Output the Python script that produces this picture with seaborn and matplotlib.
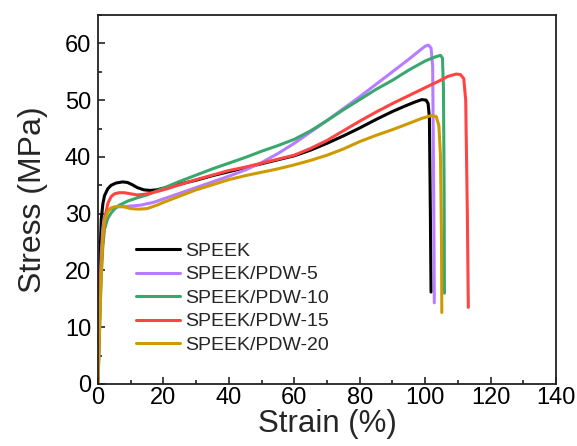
import numpy as np
import pandas as pd
import matplotlib
matplotlib.use("Agg")
import matplotlib.pyplot as plt
import seaborn as sns
from matplotlib.ticker import MultipleLocator

# ---- data ----
speek_x = [0, 0.3, 0.6, 1.0, 1.5, 2.0, 3.0, 4, 5.5, 7.5, 9, 10.5, 12, 14, 16, 18, 20, 25, 30, 35, 40, 45, 50, 55, 60, 65, 70, 75, 80, 85, 90, 94, 97, 99, 100.3, 100.9, 101.3, 101.6, 101.8]
speek_y = [0, 12, 22, 29, 31.8, 33.2, 34.4, 35.0, 35.4, 35.6, 35.5, 35.1, 34.6, 34.2, 34.1, 34.2, 34.5, 35.2, 35.9, 36.7, 37.4, 38.1, 38.8, 39.5, 40.2, 41.2, 42.4, 43.7, 45.1, 46.6, 48.0, 49.0, 49.7, 50.1, 50.0, 49.4, 47, 30, 16.2]

pdw5_x = [0, 0.3, 0.6, 1.0, 1.5, 2.0, 3.0, 4, 6, 9, 13, 17, 20, 25, 30, 35, 40, 45, 50, 55, 60, 65, 70, 75, 80, 85, 90, 95, 98, 100, 101, 101.8, 102.3, 102.6, 102.8]
pdw5_y = [0, 8, 16, 23, 27.5, 29.6, 30.6, 30.9, 31.2, 31.3, 31.5, 32.0, 32.6, 33.6, 34.6, 35.6, 36.6, 37.7, 39.0, 40.6, 42.4, 44.4, 46.4, 48.5, 50.6, 52.8, 55.0, 57.2, 58.6, 59.5, 59.7, 59.2, 56, 35, 14.3]

pdw10_x = [0, 0.3, 0.6, 1.0, 1.5, 2.0, 3.0, 4, 5, 6.5, 9, 12, 15, 20, 25, 30, 35, 40, 45, 50, 55, 60, 65, 70, 75, 80, 85, 90, 95, 100, 103, 104.7, 105.3, 105.6, 105.8, 105.9]
pdw10_y = [0, 6, 12, 19, 24.5, 27.3, 29.2, 30.1, 30.8, 31.5, 32.2, 32.8, 33.3, 34.5, 35.7, 36.8, 37.9, 38.9, 39.9, 41.0, 42.0, 43.1, 44.6, 46.4, 48.3, 50.1, 51.9, 53.5, 55.3, 56.9, 57.6, 57.9, 57.4, 52, 35, 16.0]

pdw15_x = [0, 0.3, 0.6, 1.0, 1.6, 2.2, 3.0, 4, 5, 6.5, 8, 10, 12, 14, 16, 20, 25, 30, 35, 40, 45, 50, 55, 60, 65, 70, 75, 80, 85, 90, 95, 100, 104, 107, 109.5, 110.8, 111.8, 112.4, 112.9, 113.2]
pdw15_y = [0, 7, 14.3, 21, 26, 29.5, 31.8, 33.0, 33.5, 33.7, 33.7, 33.5, 33.3, 33.4, 33.6, 34.2, 35.1, 36.0, 36.8, 37.6, 38.2, 38.9, 39.6, 40.3, 41.5, 42.9, 44.6, 46.3, 47.9, 49.4, 50.8, 52.2, 53.3, 54.2, 54.6, 54.5, 53.8, 50, 30, 13.5]

pdw20_x = [0, 0.3, 0.6, 1.0, 1.5, 2.0, 3.0, 4, 5, 6, 8, 10, 12.5, 15, 18, 20, 25, 30, 35, 40, 45, 50, 55, 60, 65, 70, 75, 80, 85, 90, 95, 99, 102, 103.4, 104.2, 104.7, 105.0, 105.1]
pdw20_y = [0, 6, 12, 20, 26, 28.8, 30.4, 31.0, 31.2, 31.3, 31.2, 30.9, 30.8, 30.9, 31.5, 32.0, 33.1, 34.2, 35.1, 36.0, 36.7, 37.3, 37.9, 38.6, 39.4, 40.3, 41.4, 42.7, 43.8, 44.8, 45.9, 46.8, 47.3, 47.1, 45.5, 40, 25, 12.6]

labels = ["SPEEK", "SPEEK/PDW-5", "SPEEK/PDW-10", "SPEEK/PDW-15", "SPEEK/PDW-20"]
colors = ["#000000", "#b77cff", "#3aa86e", "#ff4444", "#cf9a00"]
xticks = [0, 20, 40, 60, 80, 100, 120, 140]
yticks = [0, 10, 20, 30, 40, 50, 60]

series = [(speek_x, speek_y), (pdw5_x, pdw5_y), (pdw10_x, pdw10_y),
          (pdw15_x, pdw15_y), (pdw20_x, pdw20_y)]
frames = []
for lab, (xs, ys) in zip(labels, series):
    frames.append(pd.DataFrame({"Strain": xs, "Stress": ys, "Sample": lab}))
df = pd.concat(frames, ignore_index=True)

sns.set_theme(style="ticks")
plt.rcParams['font.family'] = ['Liberation Sans', 'DejaVu Sans']

fig = plt.figure(figsize=(5.77, 4.46), dpi=100)
ax = fig.add_axes([98/577, (446-384)/446, (556-98)/577, (384-15)/446])

sns.lineplot(data=df, x="Strain", y="Stress", hue="Sample", hue_order=labels,
             palette=colors, sort=False, estimator=None, units="Sample",
             linewidth=2.2, ax=ax)
for ln in ax.get_lines():
    ln.set_solid_joinstyle("round")
    ln.set_solid_capstyle("round")

ax.set_xlim(0, 140)
ax.set_ylim(0, 65)
ax.set_xticks(xticks)
ax.set_yticks(yticks)
ax.xaxis.set_minor_locator(MultipleLocator(10))
ax.yaxis.set_minor_locator(MultipleLocator(5))
ax.tick_params(which="both", direction="in", top=False, right=False,
               labelsize=17, width=1.2, colors="#222222", labelcolor="black",
               pad=5)
ax.tick_params(axis="x", which="major", pad=2)
ax.tick_params(which="major", length=5)
ax.tick_params(which="minor", length=3)
for s in ax.spines.values():
    s.set_linewidth(1.3)
    s.set_color("#222222")
    s.set_visible(True)

ax.set_xlabel("Strain (%)", fontsize=22.5, labelpad=0)
ax.set_ylabel("Stress (MPa)", fontsize=23, labelpad=12)

leg = ax.legend(loc="upper left", bbox_to_anchor=(0.062, 0.41), frameon=False,
                fontsize=14, handlelength=2.27, handletextpad=0.26,
                labelspacing=0.3, borderpad=0)
for line in leg.get_lines():
    line.set_linewidth(2.2)

fig.savefig("out.png", dpi=100)
